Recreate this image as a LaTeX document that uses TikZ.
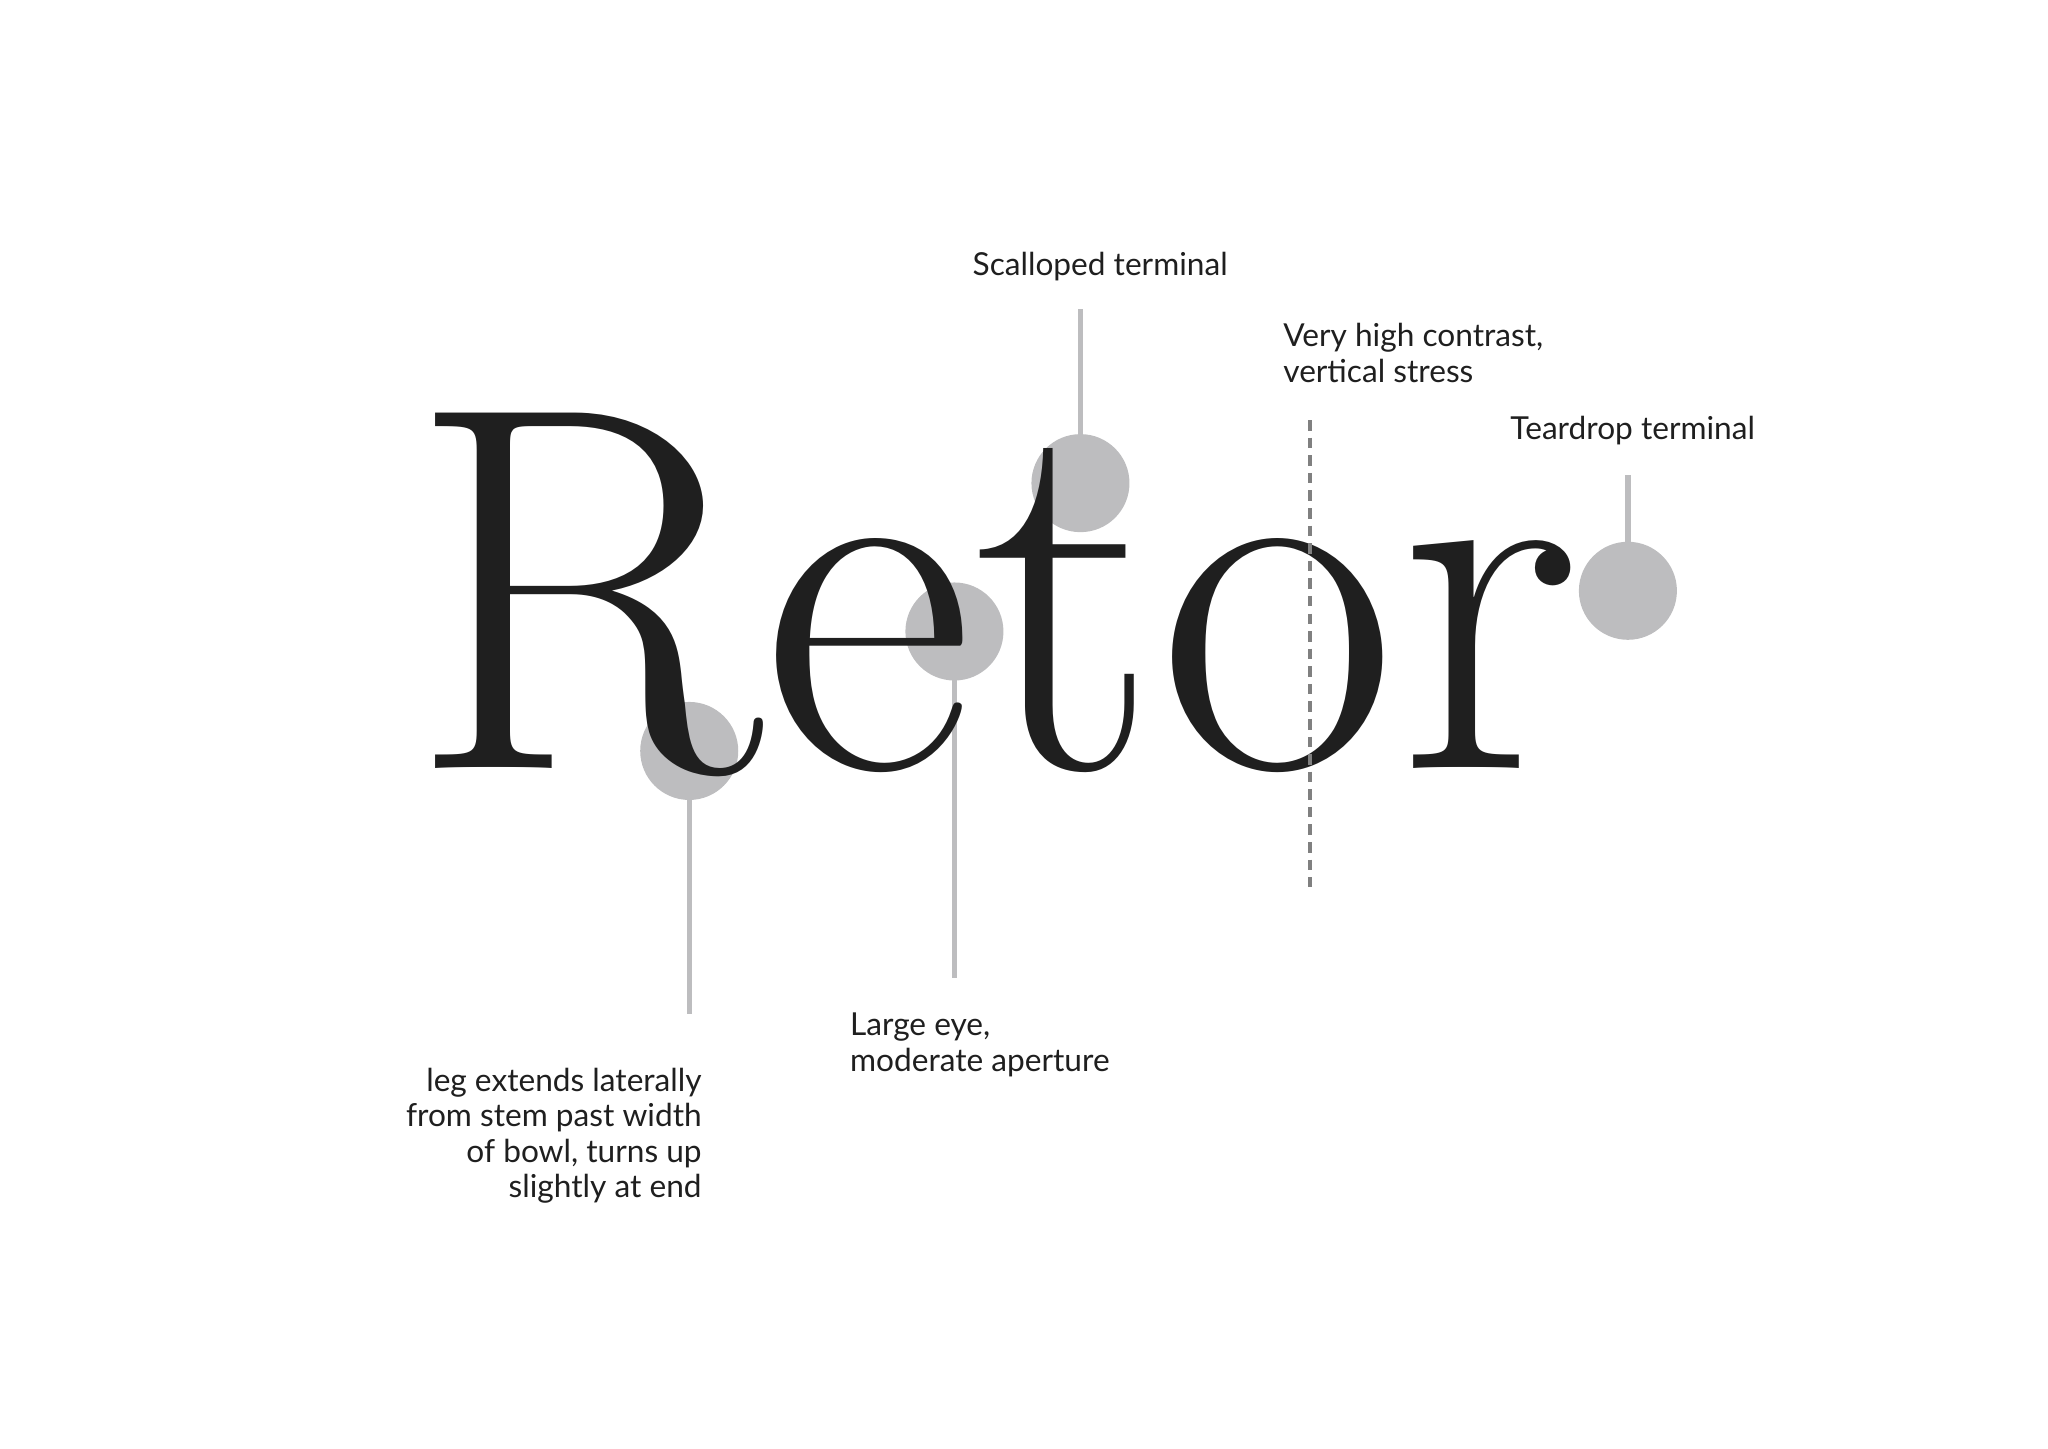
\documentclass[tikz,border=0pt]{standalone}
\usepackage{fontspec}
\newfontfamily\labelfont{Lato}
\usepackage{xcolor}
\definecolor{dotgrey}{HTML}{BDBDBF}
\definecolor{ink}{HTML}{1F1F1F}
\tikzset{
	dot/.style = {circle, fill = dotgrey, minimum size = 0.98cm, inner sep = 0pt},
	pin/.style = {dotgrey, line width = 1.5pt},
	note/.style = {font = \labelfont\fontsize{9pt}{10.1pt}\selectfont, text = ink, inner sep = 0pt}
}
\begin{document}
\begin{tikzpicture}[x=0.01313cm, y=-0.01313cm]
			\useasboundingbox (0,0) rectangle (1560,1103);
			
			\node[dot] (leg) at (525,572) {};
			\node[dot] (eye) at (727,481) {};
			\node[dot] (scallop) at (823,368) {};
			\node[dot] (tear) at (1240,450) {};
			
			\coordinate (legend) at (525,772);
			\coordinate (eyeend) at (727,745);
			\coordinate (scallopend) at (823,235);
			\coordinate (tearend) at (1240,362);
			\coordinate (stresstop) at (998,320);
			\coordinate (stressbot) at (998,676);
			
			\draw[pin] (leg.center) to (legend);
			\draw[pin] (eye.center) to (eyeend);
			\draw[pin] (scallop.center) to (scallopend);
			\draw[pin] (tear.center) to (tearend);
			
			\node[anchor = base west, inner sep = 0pt, text = ink,
			text height = 0.69em, text depth = 0.01em,
			font = \fontsize{148pt}{148pt}\selectfont] (word) at (311,585) {Retor};
			
			\draw[gray, line width = 1.1pt, dash pattern = on 3pt off 2pt] (stresstop) to (stressbot);
			
			\node[note, anchor = base] (scalloplabel) at (838,210) {Scalloped terminal};
			\node[note, anchor = north west, align = left] (stresslabel) at (977,246) {Very high contrast,\\vertical stress};
			\node[note, anchor = base west] (tearlabel) at (1150,335) {Teardrop terminal};
			\node[note, anchor = north west, align = left] (eyelabel) at (647,771) {Large eye,\\moderate aperture};
			\node[note, anchor = north east, align = right] (leglabel) at (535,813) {leg extends laterally\\from stem past width\\of bowl, turns up\\slightly at end};
			
\end{tikzpicture}
\end{document}
